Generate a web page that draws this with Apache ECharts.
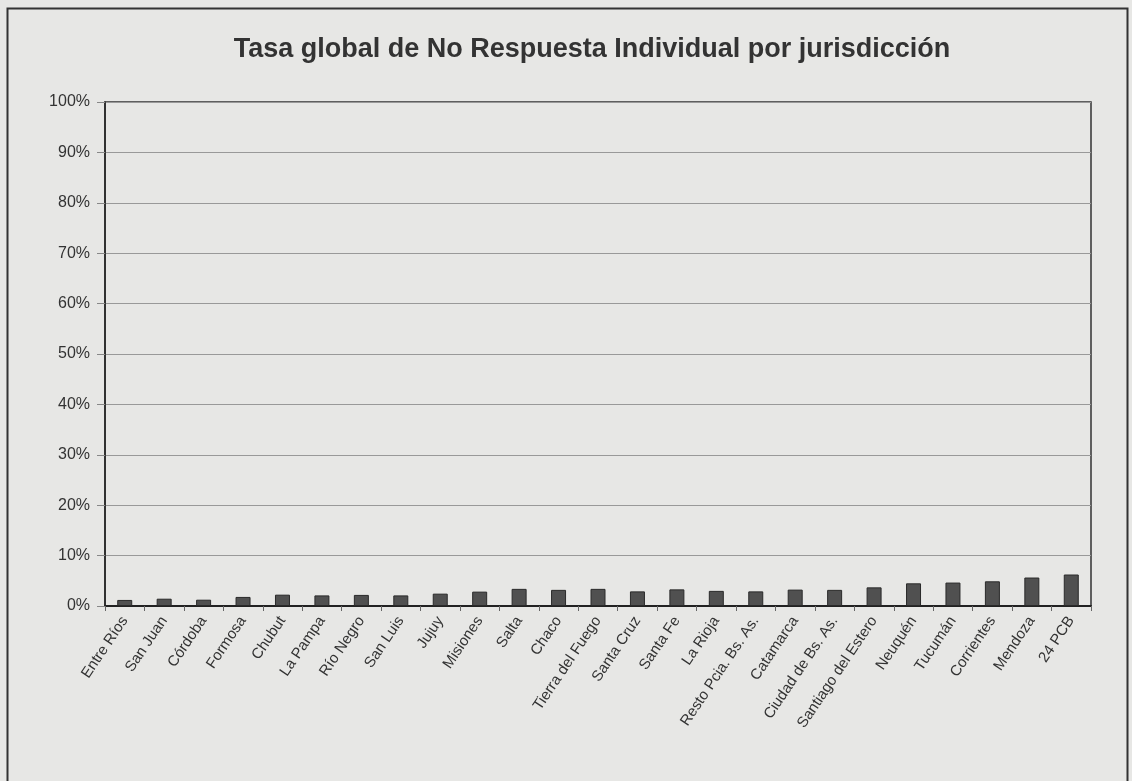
<!DOCTYPE html>
<html>
<head>
<meta charset="utf-8">
<script src="https://cdn.jsdelivr.net/npm/echarts@6/dist/echarts.min.js"></script>
<style>
html,body{margin:0;padding:0;background:#e7e7e5;}
#chart{width:1132px;height:781px;}
</style>
</head>
<body>
<div id="chart"></div>
<script>
const categories = ["Entre Ríos","San Juan","Córdoba","Formosa","Chubut","La Pampa","Río Negro","San Luis","Jujuy","Misiones","Salta","Chaco","Tierra del Fuego","Santa Cruz","Santa Fe","La Rioja","Resto Pcia. Bs. As.","Catamarca","Ciudad de Bs. As.","Santiago del Estero","Neuquén","Tucumán","Corrientes","Mendoza","24 PCB"];
const tasa = [0.012,0.0145,0.0125,0.018,0.0225,0.021,0.022,0.021,0.0245,0.0285,0.034,0.032,0.034,0.029,0.033,0.030,0.029,0.0325,0.032,0.037,0.045,0.0465,0.049,0.0565,0.0625];
const yTicks = [0,0.1,0.2,0.3,0.4,0.5,0.6,0.7,0.8,0.9,1.0];

const chart = echarts.init(document.getElementById('chart'), null, {renderer:'canvas'});
chart.setOption({
  backgroundColor: '#e7e7e5',
  animation: false,
  title: {
    text: 'Tasa global de No Respuesta Individual por jurisdicción',
    left: 587, top: 31, textAlign: 'center',
    textStyle: {fontFamily: 'Liberation Sans, Arial', fontSize: 27, fontWeight: 'bold', color: '#333'}
  },
  graphic: [{
    type: 'rect', silent: true,
    shape: {x: 7.5, y: 8.5, width: 1120, height: 800},
    style: {fill: 'none', stroke: '#333', lineWidth: 2}
  }],
  grid: {left: 105, top: 102, right: 41, bottom: 175, show: true, borderColor: '#333', borderWidth: 1.5, backgroundColor: 'transparent'},
  xAxis: {
    type: 'category', data: categories,
    axisLine: {lineStyle: {color: '#222', width: 2}},
    axisTick: {show: true, length: 5, lineStyle: {color: '#666'}},
    axisLabel: {interval: 0, rotate: 56, fontFamily: 'Liberation Sans, Arial', fontSize: 15, color: '#333', margin: 12}
  },
  yAxis: {
    type: 'value', min: 0, max: 1, interval: 0.1,
    axisLine: {show: true, lineStyle: {color: '#222', width: 1.5}},
    axisTick: {show: true, length: 8, lineStyle: {color: '#888'}},
    splitLine: {lineStyle: {color: '#999', width: 1}},
    axisLabel: {
      fontFamily: 'Liberation Sans, Arial', fontSize: 16, color: '#333', margin: 15,
      formatter: v => { const t = yTicks.find(x => Math.abs(x - v) < 1e-9); return Math.round((t ?? v) * 100) + '%'; }
    }
  },
  series: [{
    type: 'bar', data: tasa, barWidth: 15,
    itemStyle: {color: '#505050', borderColor: '#2a2a2a', borderWidth: 1}
  }]
});
</script>
</body>
</html>
